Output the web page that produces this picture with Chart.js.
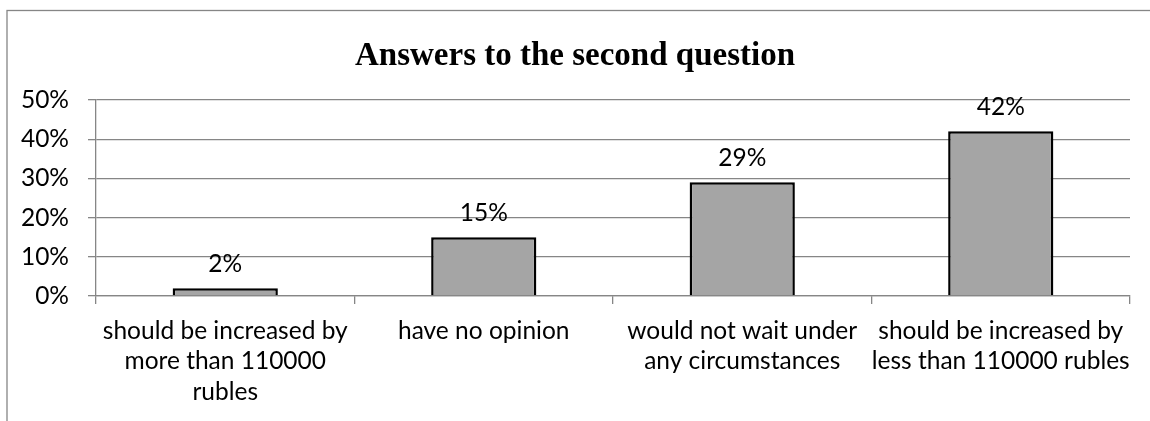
<!DOCTYPE html>
<html>
<head>
<meta charset="utf-8">
<script src="https://cdn.jsdelivr.net/npm/chart.js@4.4.0/dist/chart.umd.min.js"></script>
<style>
  html, body { margin: 0; padding: 0; background: #ffffff; }
  #wrap { width: 1150px; height: 421px; position: relative; }
</style>
</head>
<body>
<div id="wrap"><canvas id="c" width="1150" height="421"></canvas></div>
<script>
const titleText = "Answers to the second question";
const categories = [
  ["should be increased by", "more than 110000", "rubles"],
  ["have no opinion"],
  ["would not wait under", "any circumstances"],
  ["should be increased by", "less than 110000 rubles"]
];
const values = [2, 15, 29, 42];
const yTicks = [0, 10, 20, 30, 40, 50];

const labelFont = { family: "Lato, 'Open Sans', sans-serif", size: 24.5 };

const framePlugin = {
  id: 'frame',
  beforeDraw(chart) {
    const ctx = chart.ctx;
    ctx.save();
    ctx.fillStyle = '#ffffff';
    ctx.fillRect(0, 0, chart.width, chart.height);
    ctx.strokeStyle = '#868686';
    ctx.lineWidth = 1.3;
    ctx.strokeRect(7, 10.5, chart.width + 50, chart.height + 50);
    ctx.restore();
  }
};

const valueLabels = {
  id: 'valueLabels',
  afterDatasetsDraw(chart) {
    const ctx = chart.ctx;
    const meta = chart.getDatasetMeta(0);
    ctx.save();
    ctx.font = labelFont.size + 'px ' + labelFont.family;
    ctx.fillStyle = '#000000';
    ctx.textAlign = 'center';
    ctx.textBaseline = 'middle';
    meta.data.forEach((bar, i) => {
      ctx.fillText(values[i] + '%', bar.x, bar.y - 24);
    });
    ctx.restore();
  }
};

new Chart(document.getElementById('c'), {
  type: 'bar',
  data: {
    labels: categories,
    datasets: [{
      data: values,
      backgroundColor: '#a5a5a5',
      borderColor: '#000000',
      borderWidth: 2.5,
      borderSkipped: 'bottom',
      categoryPercentage: 1.0,
      barPercentage: 0.407
    }]
  },
  options: {
    responsive: false,
    animation: false,
    devicePixelRatio: 1,
    layout: { padding: { left: 20, right: 20, top: 0, bottom: 0 } },
    plugins: {
      legend: { display: false },
      tooltip: { enabled: false },
      title: {
        display: true,
        text: titleText,
        color: '#000000',
        font: { family: "'Liberation Serif', 'Times New Roman', serif", size: 33, weight: 'bold', lineHeight: 1.2 },
        padding: { top: 37, bottom: 23.4 }
      }
    },
    scales: {
      x: {
        grid: {
          offset: true,
          drawOnChartArea: false,
          drawTicks: true,
          tickLength: 8,
          color: '#868686',
          lineWidth: 1.3
        },
        border: { display: true, color: '#868686', width: 1.3 },
        ticks: {
          color: '#000000',
          font: { family: labelFont.family, size: labelFont.size, lineHeight: 1.24 },
          padding: 12,
          maxRotation: 0,
          autoSkip: false
        },
        afterFit(scale) { scale.height = 125; }
      },
      y: {
        min: 0,
        max: 50,
        afterBuildTicks(scale) { scale.ticks = yTicks.map(v => ({ value: v })); },
        grid: {
          color: '#868686',
          lineWidth: 1.3,
          tickLength: 8,
          drawTicks: true
        },
        border: { display: true, color: '#868686', width: 1.3 },
        ticks: {
          color: '#000000',
          font: { family: labelFont.family, size: labelFont.size },
          padding: 19,
          callback: v => v + '%'
        },
        afterFit(scale) { scale.width = 76; }
      }
    }
  },
  plugins: [framePlugin, valueLabels]
});
</script>
</body>
</html>
